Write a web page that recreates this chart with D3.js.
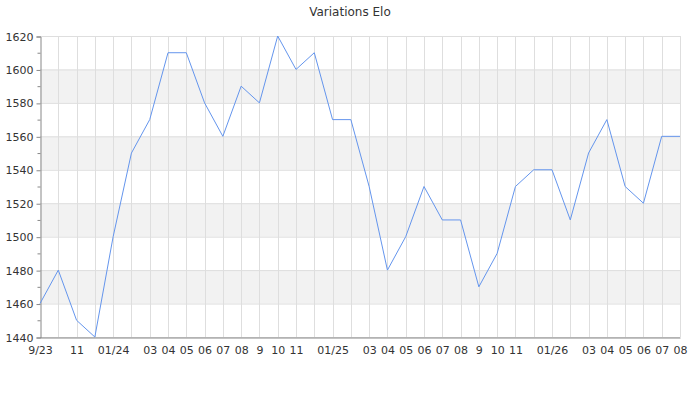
<!DOCTYPE html>
<html>
<head>
<meta charset="utf-8">
<script src="https://cdn.jsdelivr.net/npm/d3@7"></script>
<style>
body{margin:0;background:#fff;}
text{font-family:"DejaVu Sans",sans-serif;}
</style>
</head>
<body>
<svg id="chart" width="700" height="400"></svg>
<script>
const title = "Variations Elo";
const months = ["2023-09","2023-10","2023-11","2023-12","2024-01","2024-02","2024-03","2024-04","2024-05","2024-06","2024-07","2024-08","2024-09","2024-10","2024-11","2024-12","2025-01","2025-02","2025-03","2025-04","2025-05","2025-06","2025-07","2025-08","2025-09","2025-10","2025-11","2025-12","2026-01","2026-02","2026-03","2026-04","2026-05","2026-06","2026-07","2026-08"];
const elo = [1460,1480,1450,1440,1500,1550,1570,1610,1610,1580,1560,1590,1580,1620,1600,1610,1570,1570,1530,1480,1500,1530,1510,1510,1470,1490,1530,1540,1540,1510,1550,1570,1530,1520,1560,1560];
const tickLabels = ["9/23","","11","","01/24","","03","04","05","06","07","08","9","10","11","","01/25","","03","04","05","06","07","08","9","10","11","","01/26","","03","04","05","06","07","08"];
const yTicks = [1440,1460,1480,1500,1520,1540,1560,1580,1600,1620];
const yMinorTicks = [1450,1470,1490,1510,1530,1550,1570,1590,1610];

const svg = d3.select("#chart");
const L = 40, R = 680, T = 36, B = 337;
const x = d3.scalePoint().domain(months).range([L, R]);
const y = d3.scaleLinear().domain([1440, 1620]).range([B, T]);

// bands
const bands = d3.pairs(yTicks).filter((d, i) => i % 2 === 1);
svg.append("g").selectAll("rect").data(bands).join("rect")
  .attr("x", L).attr("width", R - L)
  .attr("y", d => y(d[1])).attr("height", d => y(d[0]) - y(d[1]))
  .attr("fill", "#f2f2f2");

// horizontal grid
svg.append("g").selectAll("line").data(yTicks).join("line")
  .attr("x1", L).attr("x2", R)
  .attr("y1", d => y(d) + 0.5).attr("y2", d => y(d) + 0.5)
  .attr("stroke", "#dedede");

// vertical grid
svg.append("g").selectAll("line").data(months.slice(1)).join("line")
  .attr("x1", d => Math.round(x(d)) + 0.5).attr("x2", d => Math.round(x(d)) + 0.5)
  .attr("y1", T).attr("y2", B)
  .attr("stroke", "#dedede");

// y axis
const yAxis = svg.append("g").attr("transform", `translate(${L + 0.5},0.5)`)
  .call(d3.axisLeft(y).tickValues(yTicks).tickSize(4).tickPadding(3).tickFormat(d3.format("d")));
yAxis.select(".domain").attr("stroke", "#888");
yAxis.selectAll(".tick line").attr("stroke", "#888");
yAxis.selectAll("text").attr("fill", "#333").attr("font-size", 11).attr("font-family", "DejaVu Sans");
svg.append("g").attr("transform", `translate(${L + 0.5},0.5)`)
  .selectAll("line").data(yMinorTicks).join("line")
  .attr("x1", -3).attr("x2", 0).attr("y1", d => y(d)).attr("y2", d => y(d))
  .attr("stroke", "#888");

// x axis
const xAxis = svg.append("g").attr("transform", `translate(0,${B + 0.5})`)
  .call(d3.axisBottom(x).tickSize(0).tickPadding(9).tickFormat((d, i) => tickLabels[i]));
xAxis.select(".domain").attr("stroke", "#888");
xAxis.selectAll("text").attr("fill", "#333").attr("font-size", 11).attr("font-family", "DejaVu Sans");

// line
svg.append("path").datum(elo)
  .attr("fill", "none").attr("stroke", "#6495ed").attr("stroke-width", 1)
  .attr("d", d3.line().x((d, i) => x(months[i])).y(d => y(d)));

// title
svg.append("text").attr("x", 350).attr("y", 16).attr("text-anchor", "middle")
  .attr("font-size", 12).attr("fill", "#333").text(title);
</script>
</body>
</html>
